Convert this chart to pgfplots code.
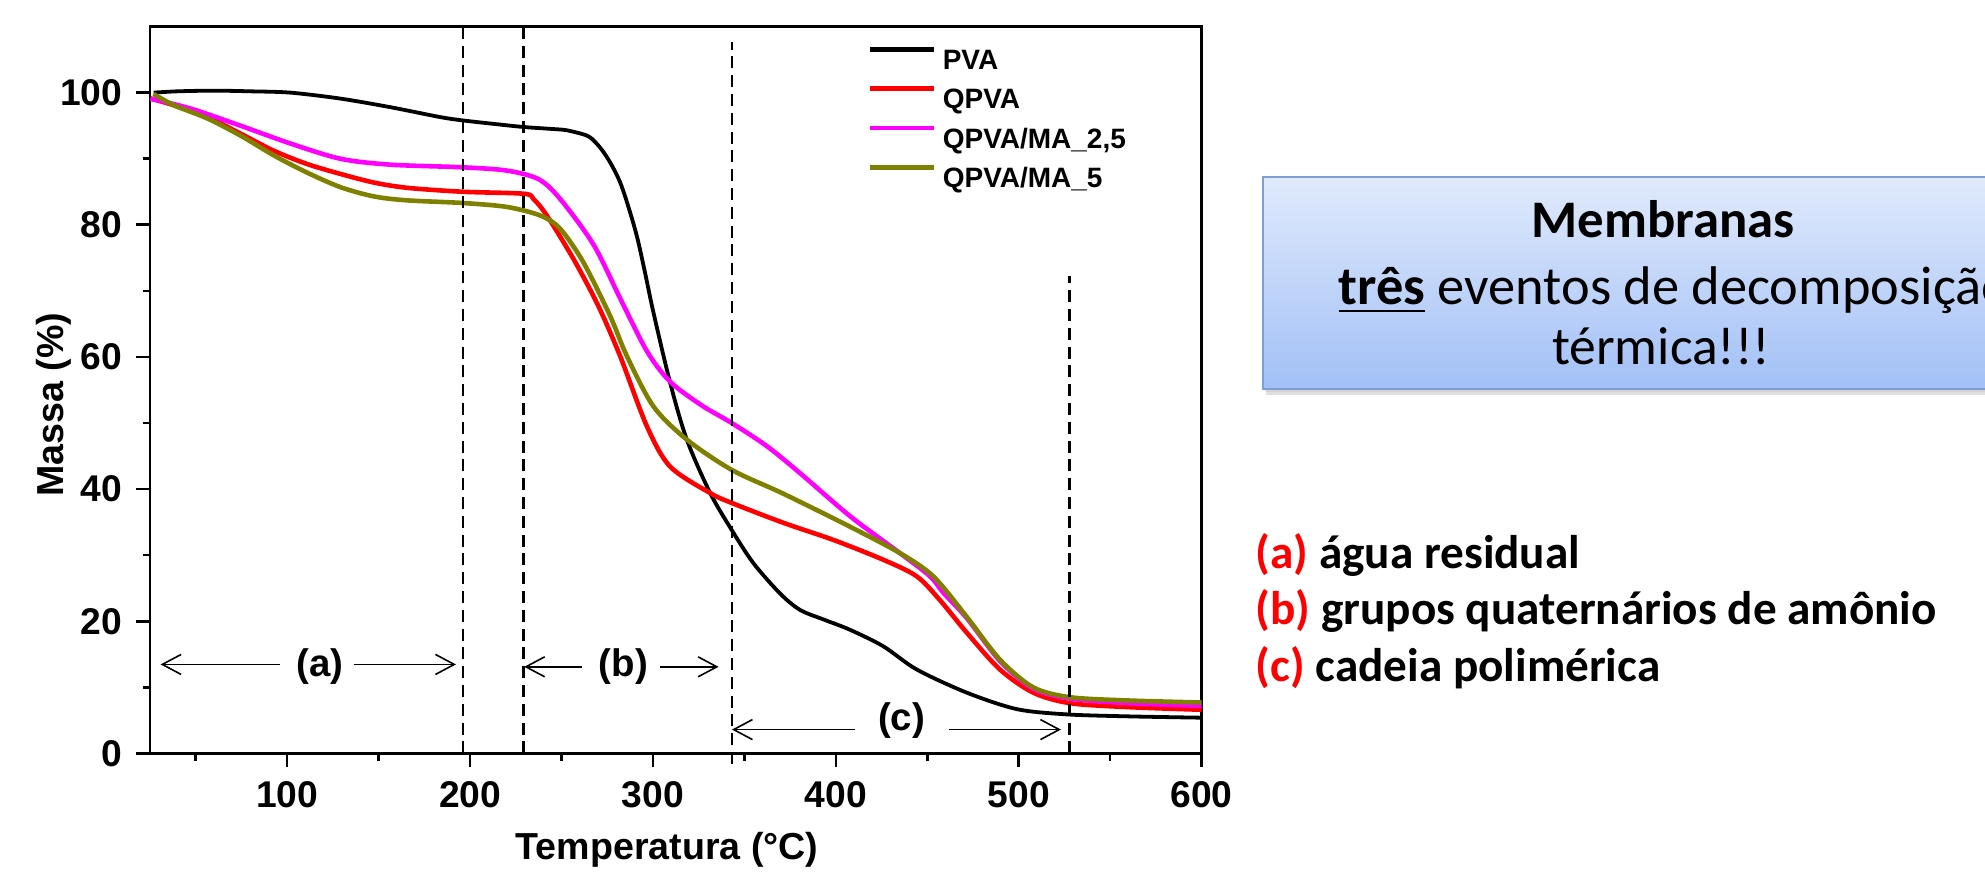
\documentclass[border=0pt]{standalone}
\usepackage{fontspec}
\setmainfont{Liberation Sans}
\newfontfamily\calfont{Carlito}
\usepackage{pgfplots}
\usepackage{pgfplotstable}
\pgfplotsset{compat=1.18}
\usetikzlibrary{arrows.meta}

\definecolor{olivec}{RGB}{128,128,0}
\definecolor{magc}{RGB}{255,0,255}
\definecolor{redc}{RGB}{255,0,0}
\definecolor{boxtop}{RGB}{224,234,252}
\definecolor{boxbot}{RGB}{162,192,246}
\definecolor{boxedge}{RGB}{126,158,214}

\tikzset{
  vdash/.style={line width=0.6pt, dash pattern=on 3pt off 1.7pt},
  barb/.style={line width=0.4pt, -{Straight Barb[length=4.7pt,width=5pt]}},
  lab/.style={font=\bfseries\fontsize{9.6}{11}\selectfont, inner sep=0pt},
}

% TGA curves, temperature (C) vs mass (%)
\pgfplotstableread{
T m
27 100.0
40 100.2
60 100.3
80 100.2
101.8 100.0
129.1 99.1
156.4 97.8
183.7 96.3
195.9 95.8
212 95.3
229.3 94.8
245 94.5
253 94.3
263.9 93.5
268.5 92.5
273.0 91.0
277.5 89.0
282.1 86.4
286.5 82.8
291.2 78.3
295.5 73.0
300.3 66.7
309.4 56.1
318.5 47.5
331.3 39.4
343.1 33.8
354.9 28.8
369.5 24.2
380.5 21.7
393.9 20.2
407.8 18.7
426.0 16.2
444.2 12.7
471.5 9.2
498.9 6.7
526.2 5.9
560 5.6
600 5.4
}\pva

\pgfplotstableread{
T m
25.3 99.1
38.0 98.1
56.3 96.3
74.5 93.8
92.7 91.2
110.9 89.2
129.1 87.7
147.3 86.4
165.5 85.6
195.9 85.0
229.3 84.7
234.7 83.9
242.0 81.4
256.6 74.8
270.0 67.8
282.1 60.1
296.7 49.5
309.4 43.4
331.3 39.4
343.1 37.9
371.3 34.9
398.7 32.3
426.0 29.3
444.2 26.8
456.9 23.2
471.5 18.3
489.7 12.7
507.9 9.2
528 7.6
560 7.0
600 6.6
}\qpva

\pgfplotstableread{
T m
25.3 99.1
47.1 97.6
74.5 95.0
101.8 92.3
129.1 90.0
156.4 89.1
195.9 88.7
220.2 88.2
237.5 86.9
249.3 83.9
267.5 77.0
282.0 68.9
294.8 61.8
303.0 58.3
312.0 55.6
327.6 52.5
343.1 50.0
362.3 46.5
380.5 42.4
407.8 35.9
435.1 30.3
451.5 26.8
458.8 24.3
471.5 20.5
489.7 14.0
507.9 9.8
528 8.3
560 7.6
600 7.2
}\qpvamaa

\pgfplotstableread{
T m
27 99.8
38.0 98.1
56.3 96.1
74.5 93.5
92.7 90.5
110.9 87.9
129.1 85.7
147.3 84.3
165.5 83.7
195.9 83.3
220.2 82.7
238.4 81.4
249.3 79.4
262.0 74.3
276.6 66.2
285.8 60.1
300.3 52.5
318.5 47.5
343.1 42.9
371.3 39.3
407.8 34.3
435.1 30.3
453.3 26.8
471.5 20.7
489.7 14.2
507.9 10.0
528 8.5
560 8.0
600 7.7
}\qpvamab

\begin{document}
\begin{tikzpicture}[x=1pt,y=1pt]
\useasboundingbox (0,0) rectangle (496.25,218.25);

\begin{axis}[
  at={(37.5pt,29.9pt)}, anchor=south west,
  scale only axis, width=262.9pt, height=181.7pt,
  xmin=25, xmax=600, ymin=0, ymax=110,
  xtick={100,200,...,600}, minor xtick={50,150,...,550},
  ytick={0,20,...,100}, minor ytick={10,30,...,90},
  tick pos=left, tick align=outside,
  major tick length=3.4pt, minor tick length=1.8pt,
  axis line style={line width=0.7pt},
  tick style={line width=0.65pt, black},
  clip=false,
  xlabel={Temperatura (°C)}, ylabel={Massa (\%)},
  every axis x label/.style={at={(axis description cs:0.4916,-0.1465)},anchor=base},
  every axis y label/.style={at={(axis description cs:-0.082,0.4795)},rotate=90,anchor=base},
  label style={font=\bfseries\fontsize{9.4}{11}\selectfont},
  ticklabel style={font=\bfseries\fontsize{9.3}{11}\selectfont},
  /pgf/number format/assume math mode=true,
  legend style={at={(axis description cs:0.6825,0.9717)}, anchor=north west,
    draw=none, fill=none, inner sep=0pt, outer sep=0pt, row sep=4.15pt,
    font=\bfseries\fontsize{7}{8}\selectfont,
    nodes={inner sep=0pt, text height=5.1pt, text depth=0pt}},
  legend cell align=left,
  legend image code/.code={\draw[#1, line width=1.2pt] (0pt,2.5pt) -- (16pt,2.5pt); \path (17.6pt,2.5pt);},
]
\addplot[black, line width=0.95pt, smooth] table[x=T,y=m] {\pva};
\addlegendentry{PVA}
\addplot[redc, line width=1.15pt, smooth] table[x=T,y=m] {\qpva};
\addlegendentry{QPVA}
\addplot[magc, line width=1.15pt, smooth] table[x=T,y=m] {\qpvamaa};
\addlegendentry{QPVA/MA\_2,5}
\addplot[olivec, line width=1.15pt, smooth] table[x=T,y=m] {\qpvamab};
\addlegendentry{QPVA/MA\_5}

% event limits
\draw[vdash] (axis cs:196,0) -- (axis cs:196,110);
\draw[vdash] (axis cs:229.3,0) -- (axis cs:229.3,110);
\draw[vdash] (axis cs:343.1,-1.6) -- (axis cs:343.1,107.7);
\draw[vdash] (axis cs:527.8,0) -- (axis cs:527.8,72.3);

% (a)
\draw[barb] (axis cs:96.2,13.46) -- (axis cs:30.8,13.46);
\draw[barb] (axis cs:136.4,13.46) -- (axis cs:192.3,13.46);
\node[lab] at (axis cs:118.1,13.2) {(a)};
% (b)
\draw[barb] (axis cs:261.3,13.1) -- (axis cs:229.6,13.1);
\draw[barb] (axis cs:303.6,13.1) -- (axis cs:335.9,13.1);
\node[lab] at (axis cs:283.8,13.1) {(b)};
% (c)
\draw[barb] (axis cs:410.5,3.6) -- (axis cs:343.2,3.6);
\draw[barb] (axis cs:462.1,3.6) -- (axis cs:523.1,3.6);
\node[lab] at (axis cs:436,4.9) {(c)};
\end{axis}

% note box, cut by the page edge as in the slide
\begin{scope}
\clip (0,0) rectangle (496.25,218.25);
\fill[black!35, opacity=0.35] (316.5,119.6) rectangle (517,172.8);
\fill[black!25, opacity=0.35] (316.2,120.2) rectangle (517,173.4);
\shadedraw[top color=boxtop, bottom color=boxbot, draw=boxedge, line width=0.45pt]
  (315.75,121) rectangle (515.75,174);
\end{scope}
\node[anchor=base, inner sep=0pt, font=\calfont\bfseries\fontsize{13.2}{15}\selectfont]
  at (415.75,158.9) {Membranas};
\node[anchor=base west, inner sep=0pt, font=\calfont\fontsize{13.6}{15}\selectfont]
  at (334.5,142) {\textbf{\underline{três}} eventos de decomposição};
\node[anchor=base, inner sep=0pt, font=\calfont\fontsize{13.4}{15}\selectfont]
  at (415.3,127) {térmica!!!};

% event key
\begin{scope}[every node/.style={anchor=base west, inner sep=0pt,
    font=\calfont\bfseries\fontsize{11.8}{14}\selectfont}]
\node at (313.75,76.2) {\textcolor{redc}{(a)} água residual};
\node at (313.75,62) {\textcolor{redc}{(b)} grupos quaternários de amônio};
\node at (313.75,47.8) {\textcolor{redc}{(c)} cadeia polimérica};
\end{scope}
\end{tikzpicture}
\end{document}
